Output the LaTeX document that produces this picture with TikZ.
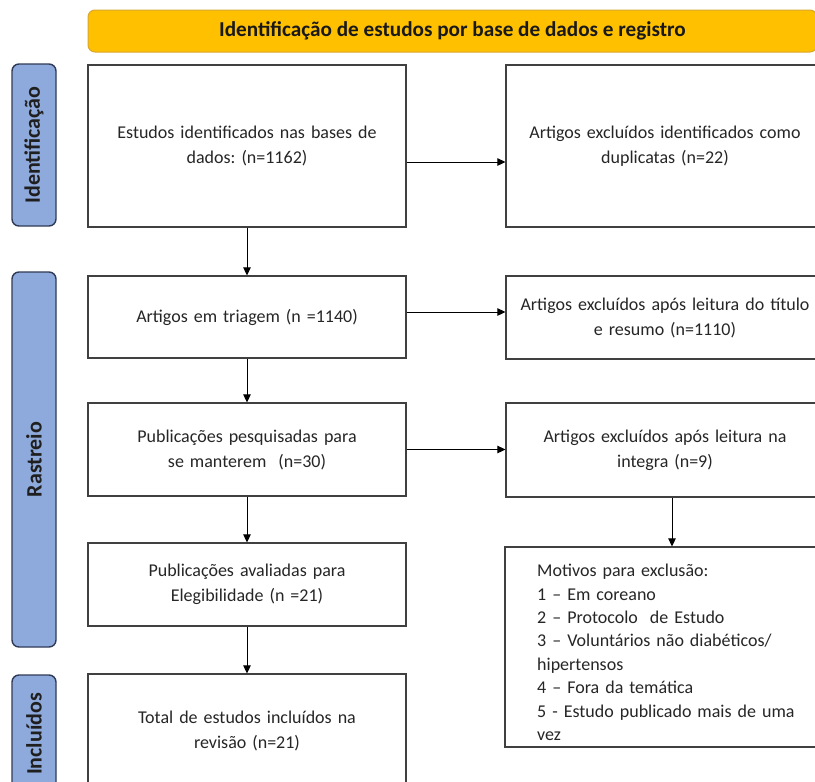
\documentclass[tikz,border=0pt]{standalone}
\usepackage{fontspec}
\setmainfont{Carlito}
\frenchspacing
\usetikzlibrary{arrows.meta,calc}
\definecolor{bannerfill}{HTML}{FFC000}
\definecolor{bannerdraw}{HTML}{D9A62E}
\definecolor{sidefill}{HTML}{8EA9DB}
\definecolor{sidedraw}{HTML}{2F3B56}
\definecolor{boxdraw}{HTML}{404040}
\definecolor{txt}{HTML}{262626}
\tikzset{
  flowbox/.style={draw=boxdraw, line width=1.2pt, fill=white, rectangle, inner sep=0pt,
    minimum width=318pt, text width=310pt, align=center, text=txt,
    font=\fontsize{18}{25}\selectfont},
  sidebox/.style={draw=sidedraw, fill=sidefill, line width=1.4pt, rounded corners=7pt,
    minimum height=44pt, inner sep=0pt, text=black!88, rotate=90,
    font=\bfseries\fontsize{22}{26}\selectfont},
  bannerbox/.style={draw=bannerdraw, fill=bannerfill, line width=1pt, rounded corners=7pt,
    minimum width=729pt, minimum height=42pt, inner sep=0pt, text=black!90,
    font=\bfseries\fontsize{21.2}{24}\selectfont},
  arr/.style={draw=black, line width=1pt, -{Triangle[length=8pt,width=7.5pt]}},
}
\begin{document}
\begin{tikzpicture}[x=1pt,y=-1pt]
\useasboundingbox (0,0) rectangle (815,782);
\clip (0,0) rectangle (815,782);
\fill[white] (0,0) rectangle (815,782);

% banner
\node[bannerbox] (ban) at (452.5,31) {Identificação de estudos por base de dados e registro};

% side labels
\node[sidebox, minimum width=162pt] (s1) at (34,145) {Identificação};
\node[sidebox, minimum width=375pt] (s2) at (34,459.5) {Rastreio};
\node[sidebox, minimum width=118pt] (s3) at (34,734) {Incluídos};

% left column
\node[flowbox, minimum height=162pt] (b1) at (247,146) {Estudos identificados nas bases de\\dados: (n=1162)};
\node[flowbox, minimum height=82pt] (b2) at (247,317) {Artigos em triagem (n =1140)};
\node[flowbox, minimum height=93pt] (b3) at (247,449.5) {Publicações pesquisadas para\\se manterem\ \ (n=30)};
\node[flowbox, minimum height=83pt] (b4) at (247,584.5) {Publicações avaliadas para\\Elegibilidade (n =21)};
\node[flowbox, minimum height=114pt] (b5) at (247,731) {Total de estudos incluídos na\\revisão (n=21)};

% right column
\node[flowbox, minimum height=162pt] (r1) at (665,146) {Artigos excluídos identificados como\\duplicatas (n=22)};
\node[flowbox, minimum height=83pt] (r2) at (665,317.5) {Artigos excluídos após leitura do título\\e resumo (n=1110)};
\node[flowbox, minimum height=94pt] (r3) at (665,450) {Artigos excluídos após leitura na\\integra (n=9)};
\node[flowbox, minimum width=325pt, minimum height=200pt] (mot) at (667.5,647) {};
\node[anchor=north west, inner sep=0pt, align=left, text width=280pt, text=txt,
      font=\fontsize{18}{23.4}\selectfont] (mottxt) at (537,564)
 {Motivos para exclusão:\\
  1 – Em coreano\\
  2 – Protocolo\ \ de Estudo\\
  3 – Voluntários não diabéticos/\\
  hipertensos\\
  4 – Fora da temática\\
  5 - Estudo publicado mais de uma\\
  vez};

% connectors
\draw[arr] (b1.south) -- (b2.north);
\draw[arr] (b2.south) -- (b3.north);
\draw[arr] (b3.south) -- (b4.north);
\draw[arr] (b4.south) -- (b5.north);
\draw[arr] ($(b1.east)+(0,16)$) -- ($(r1.west)+(0,16)$);
\draw[arr] ($(b2.east)+(0,-5)$) -- (r2.west |- {$(b2.east)+(0,-5)$});
\draw[arr] (b3.east) -- (r3.west |- b3.east);
\coordinate (r3s) at ($(r3.south)+(7,0)$);
\draw[arr] (r3s) -- (r3s |- mot.north);
\end{tikzpicture}
\end{document}
